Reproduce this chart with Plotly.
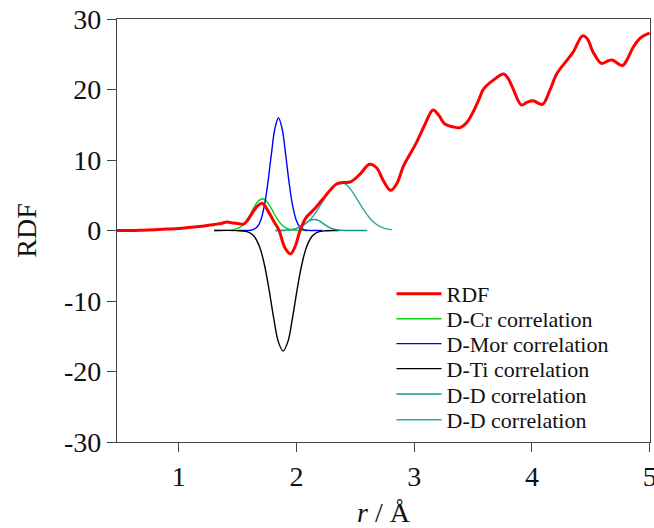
import plotly.graph_objects as go

# ---- data ----
rdf_r = [0.475, 0.6, 0.7, 0.8, 0.9, 1.0, 1.1, 1.2, 1.3, 1.36, 1.41, 1.46, 1.50, 1.55, 1.58,
         1.61, 1.67, 1.71, 1.75, 1.81, 1.85, 1.90, 1.95, 1.99, 2.03, 2.08, 2.15, 2.22, 2.28,
         2.34, 2.40, 2.46, 2.54, 2.62, 2.68, 2.74, 2.80, 2.85, 2.91, 2.96, 3.02, 3.09, 3.16,
         3.21, 3.26, 3.33, 3.39, 3.45, 3.50, 3.55, 3.59, 3.67, 3.76, 3.80, 3.84, 3.91, 3.96,
         4.01, 4.09, 4.15, 4.21, 4.29, 4.35, 4.43, 4.47, 4.52, 4.59, 4.64, 4.68, 4.77, 4.81,
         4.86, 4.92, 4.97, 5.0]
rdf_g = [0.0, 0.0, 0.05, 0.1, 0.2, 0.3, 0.45, 0.6, 0.85, 1.0, 1.2, 1.05, 1.0, 0.9, 1.35,
         2.1, 3.5, 3.85, 3.0, 1.2, 0.1, -2.4, -3.3, -2.2, 0.0, 1.8, 3.0, 4.4, 5.6,
         6.6, 6.8, 6.9, 8.0, 9.4, 8.9, 7.0, 5.7, 6.6, 9.2, 10.7, 12.5, 15.0, 17.1,
         16.3, 15.1, 14.7, 14.6, 15.4, 16.8, 18.6, 20.1, 21.3, 22.2, 21.5, 20.1, 17.8, 18.2,
         18.4, 17.9, 19.8, 22.2, 24.0, 25.3, 27.6, 27.2, 25.3, 23.7, 24.0, 24.2, 23.4, 24.3,
         26.0, 27.3, 27.8, 28.0]

cr_r = [1.30, 1.41, 1.46, 1.51, 1.55, 1.59, 1.63, 1.67, 1.71, 1.75, 1.79, 1.83, 1.87, 1.91, 1.96, 2.01, 2.10]
cr_g = [0.0, 0.015, 0.087, 0.36, 0.89, 1.81, 3.0, 4.07, 4.5, 4.07, 3.0, 1.81, 0.89, 0.36, 0.087, 0.015, 0.0]

mor_r = [1.50, 1.577, 1.627, 1.667, 1.697, 1.727, 1.757, 1.787, 1.817, 1.847, 1.877, 1.907,
         1.937, 1.967, 1.997, 2.027, 2.067, 2.117, 2.22]
mor_g = [0.0, 0.01, 0.1, 0.53, 1.5, 3.52, 6.8, 10.9, 14.5, 15.95, 14.5, 10.9,
         6.8, 3.52, 1.5, 0.53, 0.1, 0.01, 0.0]

ti_r = [1.30, 1.52, 1.586, 1.636, 1.686, 1.726, 1.766, 1.806, 1.846, 1.886, 1.926, 1.966,
        2.006, 2.046, 2.086, 2.136, 2.186, 2.25, 2.36]
ti_g = [0.0, -0.03, -0.19, -0.75, -2.3, -4.75, -8.3, -12.4, -15.8, -17.1, -15.8, -12.4,
        -8.3, -4.75, -2.3, -0.75, -0.19, -0.03, 0.0]

dd1_r = [1.82, 1.89, 1.95, 1.99, 2.03, 2.07, 2.11, 2.15, 2.19, 2.23, 2.27, 2.31, 2.35, 2.41, 2.60]
dd1_g = [0.0, 0.008, 0.07, 0.21, 0.51, 0.95, 1.39, 1.57, 1.39, 0.95, 0.51, 0.21, 0.07, 0.008, 0.0]

dd2_r = [1.82, 1.925, 1.975, 2.025, 2.075, 2.125, 2.175, 2.225, 2.275, 2.325, 2.375, 2.425,
         2.475, 2.525, 2.575, 2.625, 2.675, 2.725, 2.775, 2.81]
dd2_g = [0.0, 0.076, 0.19, 0.45, 0.93, 1.71, 2.82, 4.16, 5.49, 6.48, 6.85, 6.48,
         5.49, 4.16, 2.82, 1.71, 0.93, 0.45, 0.19, 0.1]

x_ticks = [1, 2, 3, 4, 5]
x_ticktext = ["1", "2", "3", "4", "5"]
y_ticks = [-30, -20, -10, 0, 10, 20, 30]
y_ticktext = ["-30", "-20", "-10", "0", "10", "20", "30"]

series_names = ["RDF", "D-Cr correlation", "D-Mor correlation", "D-Ti correlation",
                "D-D correlation", "D-D correlation"]

FONT = "Liberation Serif, Times New Roman, serif"

fig = go.Figure()
thin = 1.4
# draw order: components first, RDF on top; each trace has its own legend row
fig.add_trace(go.Scatter(x=cr_r, y=cr_g, mode="lines", name=series_names[1], legend="legend2",
                         line=dict(color="#11cc11", width=thin, shape="spline")))
fig.add_trace(go.Scatter(x=mor_r, y=mor_g, mode="lines", name=series_names[2], legend="legend3",
                         line=dict(color="#0000ff", width=thin, shape="spline")))
fig.add_trace(go.Scatter(x=ti_r, y=ti_g, mode="lines", name=series_names[3], legend="legend4",
                         line=dict(color="#000000", width=thin, shape="spline")))
fig.add_trace(go.Scatter(x=dd1_r, y=dd1_g, mode="lines", name=series_names[4], legend="legend5",
                         line=dict(color="#139595", width=thin, shape="spline")))
fig.add_trace(go.Scatter(x=dd2_r, y=dd2_g, mode="lines", name=series_names[5], legend="legend6",
                         line=dict(color="#2aa8a8", width=thin, shape="spline")))
fig.add_trace(go.Scatter(x=rdf_r, y=rdf_g, mode="lines", name=series_names[0], legend="legend",
                         line=dict(color="#ff0000", width=3, shape="spline")))

axis_common = dict(showline=True, linecolor="#444444", linewidth=1.3, mirror=True,
                   ticks="outside", ticklen=9, tickcolor="#444444", tickwidth=1.3,
                   showgrid=False, zeroline=False, ticklabeloverflow="allow",
                   tickfont=dict(family=FONT, size=28, color="#111111"))

legend_rows_y = [0.350, 0.291, 0.232, 0.173, 0.113, 0.052]
legend_keys = ["legend", "legend2", "legend3", "legend4", "legend5", "legend6"]
legend_layouts = {}
for key, yy in zip(legend_keys, legend_rows_y):
    legend_layouts[key] = dict(x=0.515, y=yy, xanchor="left", yanchor="middle",
                               bgcolor="rgba(0,0,0,0)", borderwidth=0,
                               font=dict(family=FONT, size=22, color="#111111"),
                               itemwidth=45)

fig.update_layout(
    width=654, height=528,
    margin=dict(l=117, r=4, t=19, b=86, autoexpand=False),
    paper_bgcolor="white", plot_bgcolor="white",
    font=dict(family=FONT, color="#111111"),
    xaxis=dict(range=[0.475, 5.003], tickvals=x_ticks, ticktext=x_ticktext,
               title=dict(text="<i>r</i> / Å", font=dict(family=FONT, size=28), standoff=16),
               **axis_common),
    yaxis=dict(range=[-30, 30], tickvals=y_ticks, ticktext=y_ticktext,
               title=dict(text="RDF", font=dict(family=FONT, size=28), standoff=19),
               **axis_common),
    showlegend=True,
    **legend_layouts,
)

fig.write_html("out.html",
               config={"displayModeBar": False},
               post_script="document.body.style.margin='0';document.body.style.overflow='hidden';")
